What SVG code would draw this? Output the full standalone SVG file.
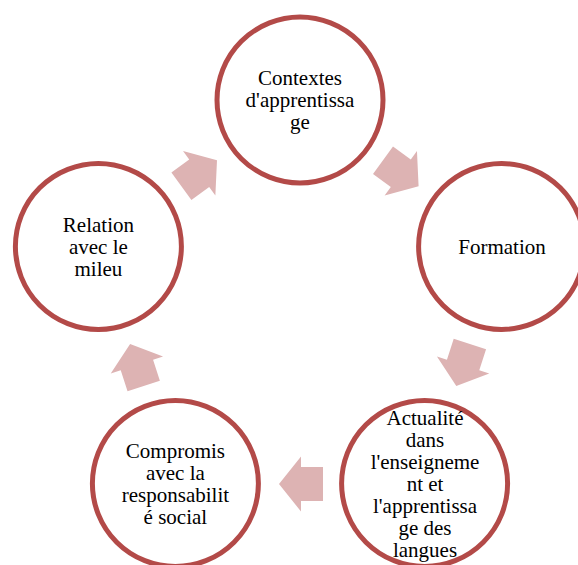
<svg xmlns="http://www.w3.org/2000/svg" width="578" height="565" viewBox="0 0 578 565">
<style>
.ring{fill:#ffffff;stroke:#b34a48;stroke-width:5}
.arr{fill:#ddb3b3}
.lbl{font-family:'Times New Roman',Tinos,'Liberation Serif',serif;font-size:21px;fill:#000000}
</style>
<defs>
<polygon id="arrow" points="-22,-17 0,-17 0,-27.5 22,0 0,27.5 0,17 -22,17"/>
</defs>
<rect width="578" height="565" fill="#ffffff"/>
<g id="connectors">
<use href="#arrow" class="arr" transform="translate(400.8,173.3) rotate(36)"/>
<use href="#arrow" class="arr" transform="translate(463.1,365) rotate(108)"/>
<use href="#arrow" class="arr" transform="translate(301,484) rotate(180)"/>
<use href="#arrow" class="arr" transform="translate(136.9,365) rotate(252)"/>
<use href="#arrow" class="arr" transform="translate(199.2,173.3) rotate(324)"/>
</g>
<g id="node1">
<circle class="ring" cx="300" cy="100" r="83"/>
<text class="lbl" text-anchor="middle"><tspan x="300" y="85">Contextes</tspan><tspan x="300" y="107">d'apprentissa</tspan><tspan x="300" y="129">ge</tspan></text>
</g>
<g id="node2">
<circle class="ring" cx="501.6" cy="246.5" r="83"/>
<text class="lbl" text-anchor="middle" x="502" y="254">Formation</text>
</g>
<g id="node3">
<circle class="ring" cx="424.6" cy="483.5" r="83"/>
<text class="lbl" text-anchor="middle"><tspan x="425" y="424.5">Actualité</tspan><tspan x="425" y="446.5">dans</tspan><tspan x="425" y="468.5">l'enseigneme</tspan><tspan x="425" y="490.5">nt et</tspan><tspan x="425" y="512.5">l'apprentissa</tspan><tspan x="425" y="534.5">ge des</tspan><tspan x="425" y="556.5">langues</tspan></text>
</g>
<g id="node4">
<circle class="ring" cx="175.4" cy="483.5" r="83"/>
<text class="lbl" text-anchor="middle"><tspan x="175.4" y="457.5">Compromis</tspan><tspan x="175.4" y="479.5">avec la</tspan><tspan x="175.4" y="501.5">responsabilit</tspan><tspan x="175.4" y="523.5">é social</tspan></text>
</g>
<g id="node5">
<circle class="ring" cx="98.4" cy="246.5" r="83"/>
<text class="lbl" text-anchor="middle"><tspan x="98.4" y="231.5">Relation</tspan><tspan x="98.4" y="253.5">avec le</tspan><tspan x="98.4" y="275.5">mileu</tspan></text>
</g>
</svg>
